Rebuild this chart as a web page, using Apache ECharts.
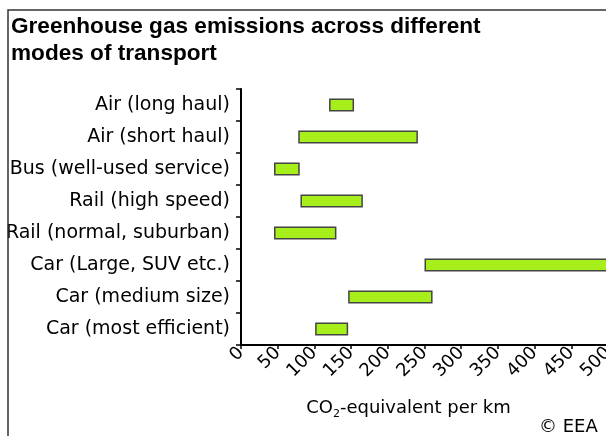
<!DOCTYPE html>
<html>
<head>
<meta charset="utf-8">
<script src="https://cdn.jsdelivr.net/npm/echarts@6/dist/echarts.min.js"></script>
<style>html,body{margin:0;padding:0;background:#fff}#c{width:606px;height:436px}</style>
</head>
<body>
<div id="c"></div>
<script>
const categories = [
  'Air (long haul)',
  'Air (short haul)',
  'Bus (well-used service)',
  'Rail (high speed)',
  'Rail (normal, suburban)',
  'Car (Large, SUV etc.)',
  'Car (medium size)',
  'Car (most efficient)'
];
const lowValues  = [120, 78, 45, 81, 45, 250, 146, 101];
const highValues = [154, 241, 80, 166, 130, 500, 261, 146];
const xTicks = [0, 50, 100, 150, 200, 250, 300, 350, 400, 450, 500];

const spans = highValues.map((h, i) => h - lowValues[i]);

const chart = echarts.init(document.getElementById('c'), null, {renderer: 'canvas'});
const labelFont = 'DejaVu Sans, Verdana, sans-serif';
chart.setOption({
  animation: false,
  backgroundColor: '#fff',
  title: {
    text: 'Greenhouse gas emissions across different\nmodes of transport',
    left: 6, top: 9,
    textStyle: {fontFamily: 'Liberation Sans, Arial, sans-serif', fontWeight: 'bold', fontSize: 22.6, lineHeight: 26.5, color: '#000'}
  },
  graphic: [
    {type: 'rect', shape: {x: 8, y: 10, width: 700, height: 500}, style: {fill: 'none', stroke: '#333', lineWidth: 1.5}, silent: true, z: 100},
    {type: 'text', left: 539, top: 418, style: {text: '© EEA', font: '18px ' + labelFont, fill: '#000'}}
  ],
  grid: {left: 241, top: 89, width: 367, bottom: 91, containLabel: false, outerBoundsMode: 'none'},
  xAxis: {
    type: 'value', min: 0, max: 500, interval: 50,
    axisLine: {show: true, lineStyle: {color: '#000', width: 2}},
    axisTick: {show: true, length: 4, lineStyle: {color: '#000', width: 1.5}},
    splitLine: {show: false},
    axisLabel: {rotate: 45, fontFamily: labelFont, fontSize: 18, color: '#000', margin: 5,
      formatter: v => xTicks.includes(v) ? String(v) : ''},
    name: '{a|CO}{s|2}{a|-equivalent per km}',
    nameLocation: 'middle', nameGap: 52,
    nameTextStyle: {padding: [0, 32, 0, 0], rich: {
      a: {fontFamily: labelFont, fontSize: 18, color: '#000'},
      s: {fontFamily: labelFont, fontSize: 11, color: '#000', padding: [12, 0, 0, 0]}
    }}
  },
  yAxis: {
    type: 'category', data: categories, inverse: true,
    axisLine: {show: true, lineStyle: {color: '#000', width: 2}},
    axisTick: {show: true, length: 5, lineStyle: {color: '#000', width: 1.5}},
    axisLabel: {fontFamily: labelFont, fontSize: 19, color: '#000', margin: 11}
  },
  series: [
    {type: 'bar', stack: 'r', data: lowValues, itemStyle: {color: 'transparent'}, barWidth: 13, silent: true},
    {type: 'bar', stack: 'r', data: spans, barWidth: 13,
      itemStyle: {color: '#a6ef1a', borderColor: '#444', borderWidth: 1.5}}
  ]
});
</script>
</body>
</html>
